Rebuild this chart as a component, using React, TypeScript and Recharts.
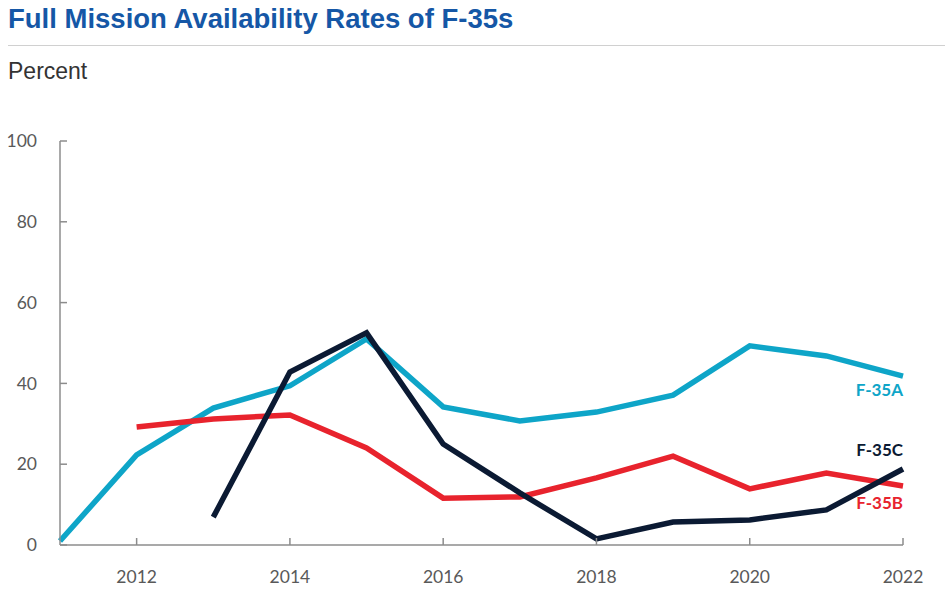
import { LineChart, Line, XAxis, YAxis, LabelList } from 'recharts';

const years = [2011, 2012, 2013, 2014, 2015, 2016, 2017, 2018, 2019, 2020, 2021, 2022];
const f35a = [1, 22.3, 33.9, 39.4, 51, 34.2, 30.7, 32.9, 37.1, 49.3, 46.8, 41.8];
const f35b = [null, 29.2, 31.2, 32.2, 24, 11.6, 11.9, 16.6, 22, 13.9, 17.8, 14.6];
const f35c = [null, null, 6.9, 42.8, 52.5, 25, 12.9, 1.5, 5.7, 6.2, 8.7, 18.8];
const xTicks = [2012, 2014, 2016, 2018, 2020, 2022];
const yTicks = [0, 20, 40, 60, 80, 100];

const data = years.map((year, i) => ({ year, a: f35a[i], b: f35b[i], c: f35c[i] }));

const last = years.length - 1;

const endLabel = (text: string, color: string, dy: number) => (props: any) => {
  if (props.index !== last) return null;
  return (
    <text
      x={props.x}
      y={props.y + dy}
      textAnchor="end"
      dominantBaseline="middle"
      fill={color}
      fontFamily="Lato, 'Open Sans', sans-serif"
      fontWeight={700}
      fontSize={17}
    >
      {text}
    </text>
  );
};

const tickStyle = { fill: '#595959', fontSize: 17.5, fontFamily: "Lato, 'Open Sans', sans-serif" };

export default function App() {
  return (
    <div style={{ position: 'absolute', left: 0, top: 0, width: 945, height: 600, background: '#fff' }}>
      <div style={{ position: 'absolute', left: 8, top: 3, fontFamily: 'Arial, "Liberation Sans", sans-serif', fontWeight: 700, fontSize: 27.5, color: '#1557a6', whiteSpace: 'nowrap' }}>
        Full Mission Availability Rates of F-35s
      </div>
      <div style={{ position: 'absolute', left: 8, right: 0, top: 45, height: 1, background: '#d0d0d0' }} />
      <div style={{ position: 'absolute', left: 8, top: 58, fontFamily: 'Arial, "Liberation Sans", sans-serif', fontSize: 23, color: '#333' }}>
        Percent
      </div>
      <div style={{ position: 'absolute', left: 0, top: 0 }}>
        <LineChart width={945} height={600} data={data} margin={{ top: 141, right: 42, bottom: 15, left: 10 }}>
          <XAxis
            dataKey="year"
            type="number"
            domain={[2011, 2022]}
            ticks={xTicks}
            height={40}
            tickSize={-7}
            tickMargin={33}
            stroke="#8c8c8c"
            strokeWidth={1.5}
            tick={tickStyle}
          />
          <YAxis
            domain={[0, 100]}
            ticks={yTicks}
            width={50}
            tickSize={-7}
            tickMargin={30}
            stroke="#8c8c8c"
            strokeWidth={1.5}
            tick={tickStyle}
          />
          <Line dataKey="a" stroke="#0ea5c8" strokeWidth={5.5} dot={false} isAnimationActive={false}>
            <LabelList dataKey="a" content={endLabel('F-35A', '#0ea5c8', 16)} />
          </Line>
          <Line dataKey="b" stroke="#e8232d" strokeWidth={5.5} dot={false} isAnimationActive={false}>
            <LabelList dataKey="b" content={endLabel('F-35B', '#e8232d', 19)} />
          </Line>
          <Line dataKey="c" stroke="#0b1a33" strokeWidth={5.5} dot={false} isAnimationActive={false}>
            <LabelList dataKey="c" content={endLabel('F-35C', '#0b1a33', -17)} />
          </Line>
        </LineChart>
      </div>
    </div>
  );
}
